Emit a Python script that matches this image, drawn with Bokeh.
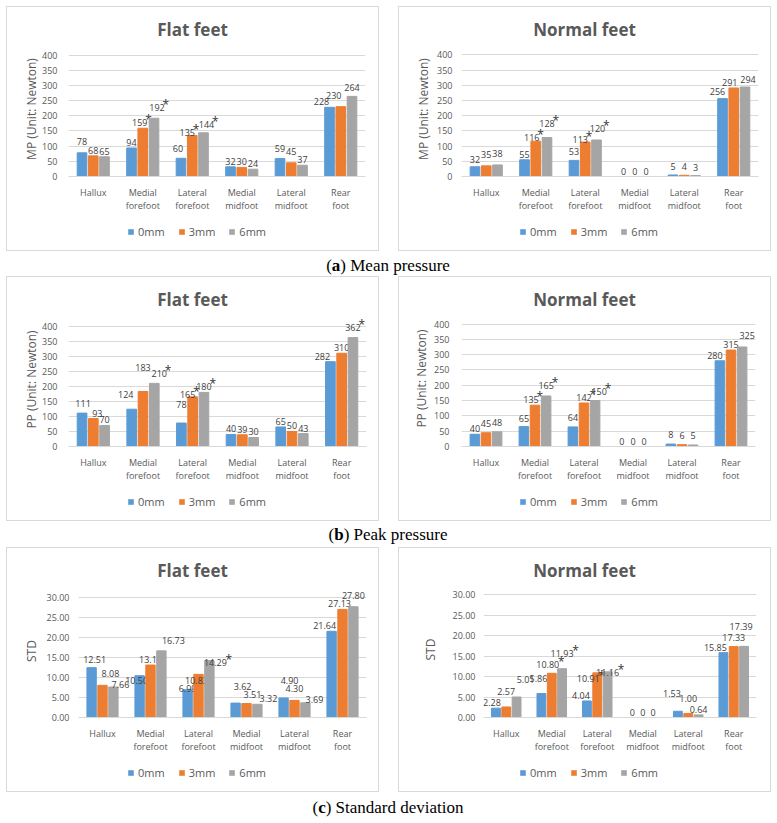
from bokeh.plotting import figure
from bokeh.layouts import row, column
from bokeh.models import (ColumnDataSource, FactorRange, Legend, LegendItem,
                          Div, FixedTicker, NumeralTickFormatter)
from bokeh.transform import dodge
from bokeh.core.properties import value
from bokeh.embed import file_html
from bokeh.resources import INLINE

regions = ["Hallux", "Medial\nforefoot", "Lateral\nforefoot",
           "Medial\nmidfoot", "Lateral\nmidfoot", "Rear\nfoot"]
series = ["0mm", "3mm", "6mm"]
colors = ["#5B9BD5", "#ED7D31", "#A5A5A5"]

# (a) mean pressure
mp_flat_0 = [78, 94, 60, 32, 59, 228]
mp_flat_3 = [68, 159, 135, 30, 45, 230]
mp_flat_6 = [65, 192, 144, 24, 37, 264]
mp_norm_0 = [32, 55, 53, 0, 5, 256]
mp_norm_3 = [35, 116, 113, 0, 4, 291]
mp_norm_6 = [38, 128, 120, 0, 3, 294]

# (b) peak pressure
pp_flat_0 = [111, 124, 78, 40, 65, 282]
pp_flat_3 = [93, 183, 165, 39, 50, 310]
pp_flat_6 = [70, 210, 180, 30, 43, 362]
pp_norm_0 = [40, 65, 64, 0, 8, 280]
pp_norm_3 = [45, 135, 142, 0, 6, 315]
pp_norm_6 = [48, 165, 150, 0, 5, 325]

# (c) standard deviation
sd_flat_0 = [12.51, 10.50, 6.99, 3.62, 4.90, 21.64]
sd_flat_3 = [8.08, 13.17, 10.83, 3.51, 4.30, 27.13]
sd_flat_6 = [7.66, 16.73, 14.29, 3.32, 3.69, 27.80]
sd_norm_0 = [2.28, 5.86, 4.04, 0, 1.53, 15.85]
sd_norm_3 = [2.57, 10.80, 10.91, 0, 1.00, 17.33]
sd_norm_6 = [5.01, 11.93, 11.16, 0, 0.64, 17.39]

# significance marks (*), 1 = marked
no_sig = [0, 0, 0, 0, 0, 0]
mp_flat_sig_3 = [0, 1, 1, 0, 0, 0]
mp_flat_sig_6 = [0, 1, 1, 0, 0, 0]
mp_norm_sig_3 = [0, 1, 1, 0, 0, 0]
mp_norm_sig_6 = [0, 1, 1, 0, 0, 0]
pp_flat_sig_3 = [0, 0, 1, 0, 0, 0]
pp_flat_sig_6 = [0, 1, 1, 0, 0, 1]
pp_norm_sig_3 = [0, 1, 1, 0, 0, 0]
pp_norm_sig_6 = [0, 1, 1, 0, 0, 0]
sd_flat_sig_3 = [0, 0, 0, 0, 0, 0]
sd_flat_sig_6 = [0, 0, 1, 0, 0, 0]
sd_norm_sig_3 = [0, 1, 1, 0, 0, 0]
sd_norm_sig_6 = [0, 1, 1, 0, 0, 0]

# hand-placed data labels: (series, region) -> pixel nudge (dx, dy)
nudge_mp_flat = {(0, 0): (0, -6), (0, 2): (-3, -4), (0, 4): (0, -5), (0, 5): (-8, 0),
                 (1, 1): (-3, 0), (1, 2): (-5, 2), (1, 4): (0, -6), (1, 5): (-7, -6),
                 (2, 1): (3, -5), (2, 2): (3, -3), (2, 5): (0, -3)}
nudge_mp_norm = {(0, 0): (0, -2), (1, 0): (0, -6), (2, 0): (0, -6),
                 (1, 1): (-4, 2), (2, 1): (0, -9),
                 (0, 2): (0, -3), (1, 2): (-5, 3), (2, 2): (1, -6),
                 (0, 4): (0, -3), (1, 4): (0, -3), (2, 4): (0, -3),
                 (0, 5): (-5, -2), (1, 5): (-4, 0), (2, 5): (3, -2)}
nudge_pp_flat = {(0, 0): (1, -4), (1, 0): (4, 0),
                 (0, 1): (-6, -9), (1, 1): (0, -18), (2, 1): (5, -4),
                 (0, 2): (0, -13), (1, 2): (-5, 3),
                 (0, 5): (-8, 0), (2, 5): (0, -5)}
nudge_pp_norm = {(1, 0): (0, -4), (2, 0): (0, -4),
                 (0, 1): (0, -3), (1, 1): (-4, 0), (2, 1): (0, -5),
                 (0, 2): (0, -4), (2, 2): (4, -4),
                 (0, 4): (0, -4), (1, 4): (0, -4), (2, 4): (0, -4),
                 (0, 5): (-5, 0), (2, 5): (5, -6)}
nudge_sd_flat = {(0, 0): (3, -3), (1, 0): (8, -6), (2, 0): (7, 3),
                 (0, 1): (-3, 10), (2, 1): (12, -5),
                 (0, 2): (0, 4), (1, 2): (-2, 12), (2, 2): (6, 7),
                 (0, 3): (7, -11), (1, 3): (6, -4), (2, 3): (11, 0),
                 (0, 4): (6, -12), (1, 4): (0, -6), (2, 4): (9, 2),
                 (0, 5): (-7, 0), (1, 5): (-3, 0), (2, 5): (0, -6)}
nudge_sd_norm = {(0, 0): (-4, 0), (1, 0): (0, -10), (2, 0): (9, -12),
                 (0, 1): (-3, -10), (1, 1): (-4, -3), (2, 1): (0, -10),
                 (0, 2): (-6, 0), (1, 2): (-9, 11), (2, 2): (0, 6),
                 (0, 4): (-6, -12), (1, 4): (0, -9),
                 (0, 5): (-8, 0), (1, 5): (0, -4), (2, 5): (-3, -14)}

GREY = "#595959"
FONT = "Open Sans"
W, H = 371, 243
TH, LH = 33, 36          # title strip and legend strip heights
HEAD = 14                # room above the top gridline for labels that stand over it


def fmt(v, dec):
    if dec == 0 or v == 0:
        return str(int(v))
    return f"{v:.{dec}f}"


def panel(title, ylabel, vals, sigs, nudge, dec, ymax, step, frame, tick_gap, lab_gap):
    fl, fr, ft, fbottom = frame
    hm = H - TH - LH
    head = Div(text=(f'<div style="width:{W}px;height:{TH}px;line-height:46px;text-align:center;'
                     f'font-family:\'Open Sans\';font-weight:bold;font-size:17px;color:{GREY}">'
                     f'{title}</div>'), width=W, height=TH, margin=0)

    ytop = ymax + ymax * HEAD / (fbottom - ft)
    p = figure(x_range=FactorRange(*regions), y_range=(0, ytop), width=W, height=hm,
               toolbar_location=None, output_backend="svg",
               min_border_left=fl, min_border_right=fr, min_border_top=max(ft - HEAD - TH, 0),
               min_border_bottom=hm - (fbottom - TH))
    offs = [-0.227, 0, 0.227]
    for i in range(3):
        labs = [fmt(v, dec) for v in vals[i]]
        dx = [nudge.get((i, k), (0, 0))[0] for k in range(6)]
        dy = [nudge.get((i, k), (0, 0))[1] - 2 for k in range(6)]
        src = ColumnDataSource(dict(x=regions, y=vals[i], lab=labs, dx=dx, dy=dy))
        p.vbar(x=dodge("x", offs[i], range=p.x_range), top="y", width=0.195,
               source=src, color=colors[i])
        p.text(x=dodge("x", offs[i], range=p.x_range), y="y", text="lab", source=src,
               x_offset="dx", y_offset="dy", text_align="center", text_baseline="bottom",
               text_font=value(FONT), text_font_size="9px", text_color="#404040")
        keep = [k for k in range(6) if sigs[i][k]]
        if keep:
            ssrc = ColumnDataSource(dict(
                x=[regions[k] for k in keep], y=[vals[i][k] for k in keep],
                ox=[dx[k] + len(labs[k]) * 2.3 + 2 for k in keep],
                oy=[dy[k] + 2 for k in keep]))
            p.text(x=dodge("x", offs[i], range=p.x_range), y="y", text=value("*"), source=ssrc,
                   x_offset="ox", y_offset="oy", text_align="center", text_baseline="bottom",
                   text_font=value(FONT), text_font_size="12px", text_color="#333333")

    p.xaxis.axis_line_color = "#D9D9D9"
    p.xaxis.major_tick_line_color = None
    p.xaxis.minor_tick_line_color = None
    p.xaxis.major_label_text_font = FONT
    p.xaxis.major_label_text_font_size = "9px"
    p.xaxis.major_label_text_line_height = 1.0
    p.xaxis.major_label_text_color = GREY
    p.xaxis.major_label_standoff = 3
    p.xgrid.grid_line_color = None

    p.yaxis.axis_line_color = None
    p.yaxis.major_tick_line_color = None
    p.yaxis.minor_tick_line_color = None
    p.yaxis.ticker = FixedTicker(ticks=[k * step for k in range(int(ymax / step) + 1)])
    if dec:
        p.yaxis.formatter = NumeralTickFormatter(format="0.00")
    p.yaxis.major_label_text_font = FONT
    p.yaxis.major_label_text_font_size = "9px"
    p.yaxis.major_label_text_color = GREY
    p.yaxis.major_label_standoff = tick_gap
    p.yaxis.axis_label = ylabel
    p.yaxis.axis_label_text_font = FONT
    p.yaxis.axis_label_text_font_size = "12px"
    p.yaxis.axis_label_text_font_style = "normal"
    p.yaxis.axis_label_text_color = GREY
    p.yaxis.axis_label_standoff = lab_gap
    p.ygrid.grid_line_color = "#D9D9D9"
    p.outline_line_color = None

    # legend strip under the chart (its frame lines up with the chart frame)
    lf = figure(width=W, height=LH, toolbar_location=None, output_backend="svg",
                x_range=(0, 1), y_range=(0, 1), x_axis_location=None, y_axis_location=None,
                min_border=0)
    lf.grid.visible = False
    lf.outline_line_color = None
    items = []
    for i in range(3):
        r = lf.vbar(x=[0.5], top=[0], bottom=[0], width=0.1, fill_color=colors[i], line_color=None)
        items.append(LegendItem(label=series[i], renderers=[r]))
    lf.add_layout(Legend(items=items, orientation="horizontal", location=(120 - fl, 11),
                         border_line_color=None, background_fill_alpha=0,
                         label_text_font=FONT, label_text_font_size="11px",
                         label_text_color=GREY, glyph_width=7, glyph_height=7,
                         label_standoff=4, spacing=13, padding=0, margin=0,
                         label_height=14), "center")
    return column(head, p, lf, spacing=0, styles={"box-shadow": "0 0 0 1px #D9D9D9"})


def caption(letter, text, h, lh):
    return Div(text=(f'<div style="width:762px;height:{h}px;overflow:hidden;text-align:center;'
                     f'font-family:\'Liberation Serif\';font-size:17px;color:#000;'
                     f'line-height:{lh}px">(<b>{letter}</b>) {text}</div>'),
               width=762, height=h, margin=0)


pa1 = panel("Flat feet", "MP (Unit: Newton)", [mp_flat_0, mp_flat_3, mp_flat_6],
            [no_sig, mp_flat_sig_3, mp_flat_sig_6], nudge_mp_flat, 0, 400, 50,
            (61, 13, 48, 173), 5, -1)
pa2 = panel("Normal feet", "MP (Unit: Newton)", [mp_norm_0, mp_norm_3, mp_norm_6],
            [no_sig, mp_norm_sig_3, mp_norm_sig_6], nudge_mp_norm, 0, 400, 50,
            (62, 12, 48, 176), 3, 2)
pb1 = panel("Flat feet", "PP (Unit: Newton)", [pp_flat_0, pp_flat_3, pp_flat_6],
            [no_sig, pp_flat_sig_3, pp_flat_sig_6], nudge_pp_flat, 0, 400, 50,
            (61, 12, 49, 172), 5, -1)
pb2 = panel("Normal feet", "PP (Unit: Newton)", [pp_norm_0, pp_norm_3, pp_norm_6],
            [no_sig, pp_norm_sig_3, pp_norm_sig_6], nudge_pp_norm, 0, 400, 50,
            (62, 15, 47, 174), 6, 1)
pc1 = panel("Flat feet", "STD", [sd_flat_0, sd_flat_3, sd_flat_6],
            [no_sig, sd_flat_sig_3, sd_flat_sig_6], nudge_sd_flat, 2, 30, 5,
            (71, 12, 50, 174), 3, 4)
pc2 = panel("Normal feet", "STD", [sd_norm_0, sd_norm_3, sd_norm_6],
            [no_sig, sd_norm_sig_3, sd_norm_sig_6], nudge_sd_norm, 2, 30, 5,
            (84, 14, 47, 177), 2, 11)

layout = column(
    row(pa1, pa2, spacing=21), caption("a", "Mean pressure", 27, 32),
    row(pb1, pb2, spacing=21), caption("b", "Peak pressure", 28, 30),
    row(pc1, pc2, spacing=21), caption("c", "Standard deviation", 28, 34),
    margin=(7, 0, 0, 7),
)

open("out.html", "w").write(file_html(layout, INLINE))
